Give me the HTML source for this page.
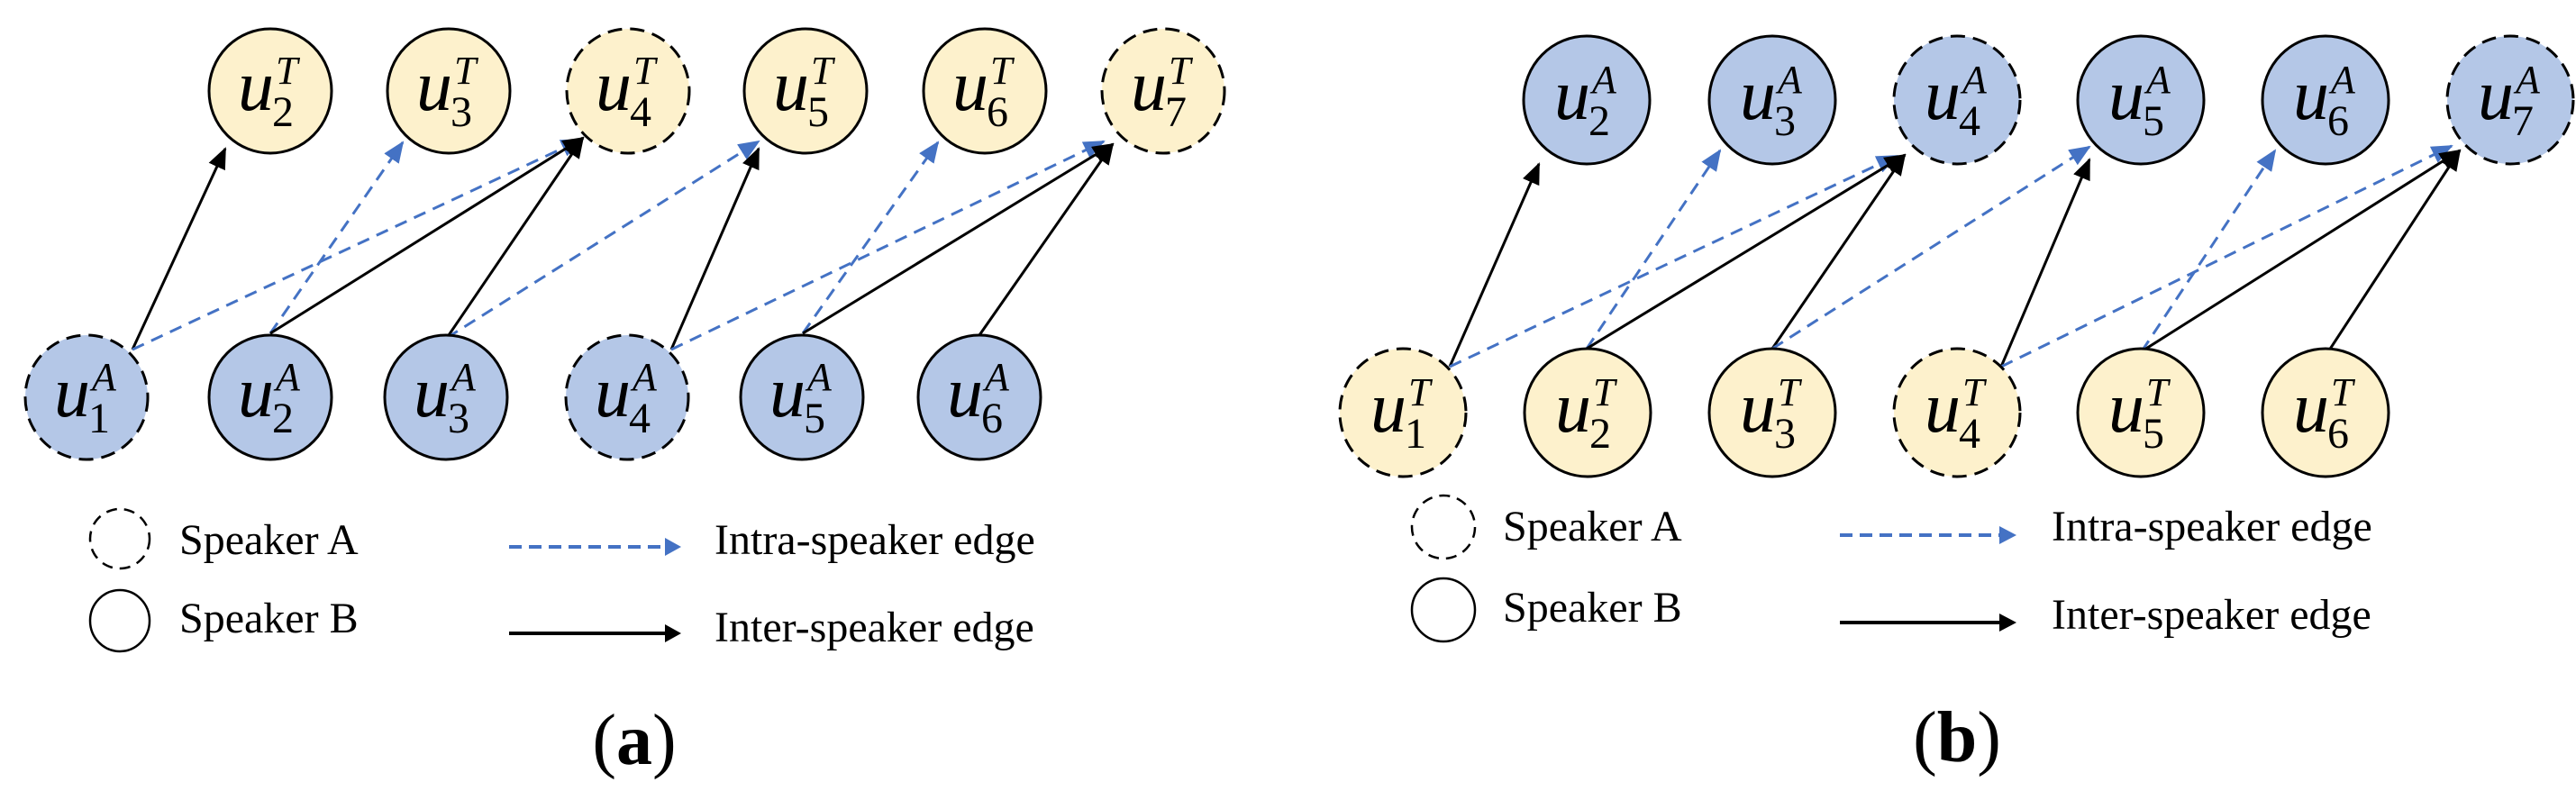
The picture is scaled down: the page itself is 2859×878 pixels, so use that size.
<!DOCTYPE html>
<html><head><meta charset="utf-8"><style>html,body{margin:0;padding:0;background:#fff}svg{display:block}</style></head>
<body>
<svg width="2859" height="878" viewBox="0 0 2859 878" xmlns="http://www.w3.org/2000/svg" font-family="'Liberation Serif', serif">
<defs>
<marker id="ab" markerUnits="userSpaceOnUse" markerWidth="24" markerHeight="20" refX="22" refY="10" orient="auto"><path d="M0,0 L24,10 L0,20 z" fill="#000"/></marker>
<marker id="ub" markerUnits="userSpaceOnUse" markerWidth="24" markerHeight="20" refX="22" refY="10" orient="auto"><path d="M0,0 L24,10 L0,20 z" fill="#4472c4"/></marker>
</defs>
<g stroke-width="3" fill="none">
<!-- panel a edges -->
<line x1="147" y1="388" x2="250" y2="165" stroke="#000" marker-end="url(#ab)"/>
<line x1="147" y1="388" x2="645" y2="155" stroke="#4472c4" stroke-dasharray="14,9" marker-end="url(#ub)"/>
<line x1="300" y1="370" x2="447" y2="158" stroke="#4472c4" stroke-dasharray="14,9" marker-end="url(#ub)"/>
<line x1="300" y1="370" x2="647" y2="153" stroke="#000" marker-end="url(#ab)"/>
<line x1="496" y1="375" x2="647" y2="153" stroke="#000" marker-end="url(#ab)"/>
<line x1="496" y1="375" x2="842" y2="157" stroke="#4472c4" stroke-dasharray="14,9" marker-end="url(#ub)"/>
<line x1="745" y1="388" x2="842" y2="165" stroke="#000" marker-end="url(#ab)"/>
<line x1="745" y1="388" x2="1225" y2="157" stroke="#4472c4" stroke-dasharray="14,9" marker-end="url(#ub)"/>
<line x1="891" y1="370" x2="1041" y2="158" stroke="#4472c4" stroke-dasharray="14,9" marker-end="url(#ub)"/>
<line x1="891" y1="370" x2="1235" y2="160" stroke="#000" marker-end="url(#ab)"/>
<line x1="1087" y1="372" x2="1235" y2="160" stroke="#000" marker-end="url(#ab)"/>
<!-- panel b edges -->
<line x1="1609" y1="407" x2="1708" y2="182" stroke="#000" marker-end="url(#ab)"/>
<line x1="1609" y1="407" x2="2105" y2="173" stroke="#4472c4" stroke-dasharray="14,9" marker-end="url(#ub)"/>
<line x1="1761" y1="387" x2="1909" y2="167" stroke="#4472c4" stroke-dasharray="14,9" marker-end="url(#ub)"/>
<line x1="1761" y1="387" x2="2114" y2="172" stroke="#000" marker-end="url(#ab)"/>
<line x1="1967" y1="387" x2="2114" y2="172" stroke="#000" marker-end="url(#ab)"/>
<line x1="1967" y1="387" x2="2319" y2="163" stroke="#4472c4" stroke-dasharray="14,9" marker-end="url(#ub)"/>
<line x1="2221" y1="407" x2="2319" y2="177" stroke="#000" marker-end="url(#ab)"/>
<line x1="2221" y1="407" x2="2721" y2="162" stroke="#4472c4" stroke-dasharray="14,9" marker-end="url(#ub)"/>
<line x1="2377" y1="390" x2="2525" y2="167" stroke="#4472c4" stroke-dasharray="14,9" marker-end="url(#ub)"/>
<line x1="2377" y1="390" x2="2730" y2="167" stroke="#000" marker-end="url(#ab)"/>
<line x1="2583" y1="392" x2="2730" y2="167" stroke="#000" marker-end="url(#ab)"/>
</g>

<!-- nodes -->
<g stroke="#000" stroke-width="3">
<!-- panel a top (yellow) -->
<ellipse cx="300" cy="101" rx="68" ry="69" fill="#fdf1cc"/>
<ellipse cx="498" cy="101" rx="68" ry="69" fill="#fdf1cc"/>
<ellipse cx="697" cy="101" rx="68" ry="69" fill="#fdf1cc" stroke-dasharray="16,9"/>
<ellipse cx="894" cy="101" rx="68" ry="69" fill="#fdf1cc"/>
<ellipse cx="1093" cy="101" rx="68" ry="69" fill="#fdf1cc"/>
<ellipse cx="1291" cy="101" rx="68" ry="69" fill="#fdf1cc" stroke-dasharray="16,9"/>
<!-- panel a bottom (blue) -->
<ellipse cx="96" cy="441" rx="68" ry="69" fill="#b4c7e7" stroke-dasharray="16,9"/>
<ellipse cx="300" cy="441" rx="68" ry="69" fill="#b4c7e7"/>
<ellipse cx="495" cy="441" rx="68" ry="69" fill="#b4c7e7"/>
<ellipse cx="696" cy="441" rx="68" ry="69" fill="#b4c7e7" stroke-dasharray="16,9"/>
<ellipse cx="890" cy="441" rx="68" ry="69" fill="#b4c7e7"/>
<ellipse cx="1087" cy="441" rx="68" ry="69" fill="#b4c7e7"/>
<!-- panel b top (blue) -->
<ellipse cx="1761" cy="111" rx="70" ry="71" fill="#b4c7e7"/>
<ellipse cx="1967" cy="111" rx="70" ry="71" fill="#b4c7e7"/>
<ellipse cx="2172" cy="111" rx="70" ry="71" fill="#b4c7e7" stroke-dasharray="16,9"/>
<ellipse cx="2376" cy="111" rx="70" ry="71" fill="#b4c7e7"/>
<ellipse cx="2581" cy="111" rx="70" ry="71" fill="#b4c7e7"/>
<ellipse cx="2786" cy="111" rx="70" ry="71" fill="#b4c7e7" stroke-dasharray="16,9"/>
<!-- panel b bottom (yellow) -->
<ellipse cx="1557" cy="458" rx="70" ry="71" fill="#fdf1cc" stroke-dasharray="16,9"/>
<ellipse cx="1762" cy="458" rx="70" ry="71" fill="#fdf1cc"/>
<ellipse cx="1967" cy="458" rx="70" ry="71" fill="#fdf1cc"/>
<ellipse cx="2172" cy="458" rx="70" ry="71" fill="#fdf1cc" stroke-dasharray="16,9"/>
<ellipse cx="2376" cy="458" rx="70" ry="71" fill="#fdf1cc"/>
<ellipse cx="2581" cy="458" rx="70" ry="71" fill="#fdf1cc"/>
</g>

<!-- node labels -->
<g fill="#000">
<g font-size="80" font-style="italic">
<text x="264" y="122">u</text><text x="462" y="122">u</text><text x="661" y="122">u</text><text x="858" y="122">u</text><text x="1057" y="122">u</text><text x="1255" y="122">u</text>
<text x="60" y="462">u</text><text x="264" y="462">u</text><text x="459" y="462">u</text><text x="660" y="462">u</text><text x="854" y="462">u</text><text x="1051" y="462">u</text>
<text x="1725" y="132">u</text><text x="1931" y="132">u</text><text x="2136" y="132">u</text><text x="2340" y="132">u</text><text x="2545" y="132">u</text><text x="2750" y="132">u</text>
<text x="1521" y="479">u</text><text x="1726" y="479">u</text><text x="1931" y="479">u</text><text x="2136" y="479">u</text><text x="2340" y="479">u</text><text x="2545" y="479">u</text>
</g>
<g font-size="44" font-style="italic">
<text x="306" y="93">T</text><text x="504" y="93">T</text><text x="703" y="93">T</text><text x="900" y="93">T</text><text x="1099" y="93">T</text><text x="1297" y="93">T</text>
<text x="102" y="433">A</text><text x="306" y="433">A</text><text x="501" y="433">A</text><text x="702" y="433">A</text><text x="896" y="433">A</text><text x="1093" y="433">A</text>
<text x="1767" y="103">A</text><text x="1973" y="103">A</text><text x="2178" y="103">A</text><text x="2382" y="103">A</text><text x="2587" y="103">A</text><text x="2792" y="103">A</text>
<text x="1563" y="450">T</text><text x="1768" y="450">T</text><text x="1973" y="450">T</text><text x="2178" y="450">T</text><text x="2382" y="450">T</text><text x="2587" y="450">T</text>
</g>
<g font-size="48">
<text x="302" y="140">2</text><text x="500" y="140">3</text><text x="699" y="140">4</text><text x="896" y="140">5</text><text x="1095" y="140">6</text><text x="1293" y="140">7</text>
<text x="98" y="480">1</text><text x="302" y="480">2</text><text x="497" y="480">3</text><text x="698" y="480">4</text><text x="892" y="480">5</text><text x="1089" y="480">6</text>
<text x="1763" y="150">2</text><text x="1969" y="150">3</text><text x="2174" y="150">4</text><text x="2378" y="150">5</text><text x="2583" y="150">6</text><text x="2788" y="150">7</text>
<text x="1559" y="497">1</text><text x="1764" y="497">2</text><text x="1969" y="497">3</text><text x="2174" y="497">4</text><text x="2378" y="497">5</text><text x="2583" y="497">6</text>
</g>
</g>

<!-- legend a -->
<ellipse cx="133" cy="598" rx="33" ry="33" fill="none" stroke="#000" stroke-width="2.5" stroke-dasharray="12,8"/>
<ellipse cx="133" cy="689" rx="33" ry="34" fill="none" stroke="#000" stroke-width="2.5"/>
<text x="199" y="615" font-size="48">Speaker A</text>
<text x="199" y="702" font-size="48">Speaker B</text>
<line x1="565" y1="607" x2="740" y2="607" stroke="#4472c4" stroke-width="4" stroke-dasharray="14,8"/>
<path d="M738,597 L756,607 L738,617 z" fill="#4472c4"/>
<line x1="565" y1="703" x2="740" y2="703" stroke="#000" stroke-width="4"/>
<path d="M738,693 L756,703 L738,713 z" fill="#000"/>
<text x="793" y="615" font-size="48">Intra-speaker edge</text>
<text x="793" y="712" font-size="48">Inter-speaker edge</text>
<text x="704" y="848" font-size="80" text-anchor="middle">(<tspan font-weight="bold">a</tspan>)</text>

<!-- legend b -->
<ellipse cx="1602" cy="585" rx="35" ry="35" fill="none" stroke="#000" stroke-width="2.5" stroke-dasharray="12,8"/>
<ellipse cx="1602" cy="677" rx="35" ry="35" fill="none" stroke="#000" stroke-width="2.5"/>
<text x="1668" y="600" font-size="48">Speaker A</text>
<text x="1668" y="690" font-size="48">Speaker B</text>
<line x1="2042" y1="594" x2="2220" y2="594" stroke="#4472c4" stroke-width="4" stroke-dasharray="14,8"/>
<path d="M2219,584 L2238,594 L2219,604 z" fill="#4472c4"/>
<line x1="2042" y1="691" x2="2220" y2="691" stroke="#000" stroke-width="4"/>
<path d="M2219,681 L2238,691 L2219,701 z" fill="#000"/>
<text x="2277" y="600" font-size="48">Intra-speaker edge</text>
<text x="2277" y="698" font-size="48">Inter-speaker edge</text>
<text x="2172" y="845" font-size="80" text-anchor="middle">(<tspan font-weight="bold">b</tspan>)</text>
</svg>
</body></html>
